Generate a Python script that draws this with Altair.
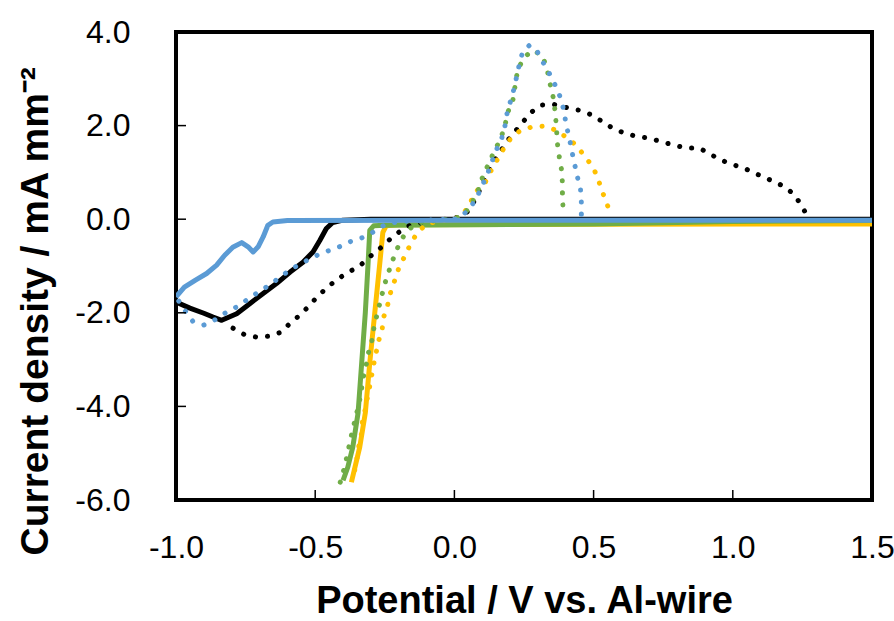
import altair as alt
import pandas as pd

# ---- data ----
black_solid_x = [-1.0, -0.95, -0.9, -0.867, -0.836, -0.782, -0.734, -0.687, -0.638, -0.59, -0.544, -0.508, -0.483, -0.46, -0.437, -0.4, -0.3, 0.0, 0.5, 1.0, 1.5]
black_solid_y = [-1.77, -1.9, -2.01, -2.09, -2.16, -2.02, -1.8, -1.59, -1.37, -1.13, -0.92, -0.7, -0.45, -0.2, -0.07, -0.02, 0.0, 0.0, 0.0, 0.0, 0.0]

blue_solid_x = [-1.0, -0.97, -0.93, -0.89, -0.854, -0.825, -0.796, -0.764, -0.741, -0.723, -0.705, -0.687, -0.67, -0.652, -0.6, 0.0, 0.5, 1.0, 1.5]
blue_solid_y = [-1.66, -1.45, -1.3, -1.16, -0.98, -0.77, -0.6, -0.5, -0.59, -0.7, -0.59, -0.38, -0.13, -0.06, -0.03, -0.02, -0.02, -0.02, -0.02]

yellow_solid_x = [-0.37, -0.34, -0.32, -0.304, -0.286, -0.268, -0.257, -0.245, -0.2, 0.5, 1.5]
yellow_solid_y = [-5.62, -4.87, -4.14, -3.07, -2.0, -0.94, -0.28, -0.14, -0.12, -0.11, -0.1]

green_solid_x = [-0.40, -0.383, -0.365, -0.346, -0.333, -0.32, -0.31, -0.304, -0.29, -0.25, 0.5, 1.0, 1.5]
green_solid_y = [-5.58, -5.3, -4.87, -4.14, -3.07, -2.0, -0.94, -0.24, -0.14, -0.13, -0.1, -0.05, -0.03]

black_dot_x = [-0.795, -0.756, -0.71, -0.667, -0.62, -0.59, -0.555, -0.52, -0.49, -0.455, -0.42, -0.38, -0.34, -0.31, -0.27, -0.24, -0.2, -0.16, -0.1, -0.03, 0.02, 0.054, 0.085, 0.115, 0.137, 0.162, 0.187, 0.216, 0.245, 0.277, 0.313, 0.352, 0.399, 0.446, 0.489, 0.528, 0.567, 0.61, 0.653, 0.70, 0.747, 0.79, 0.833, 0.88, 0.919, 0.958, 1.0, 1.048, 1.088, 1.13, 1.174, 1.21, 1.24, 1.263, 1.275]
black_dot_y = [-2.33, -2.46, -2.52, -2.5, -2.41, -2.22, -2.05, -1.84, -1.64, -1.45, -1.28, -1.13, -1.0, -0.83, -0.64, -0.47, -0.28, -0.13, -0.05, 0.0, 0.05, 0.19, 0.55, 0.94, 1.2, 1.41, 1.65, 1.86, 2.07, 2.29, 2.44, 2.46, 2.39, 2.33, 2.24, 2.1, 1.95, 1.84, 1.77, 1.73, 1.65, 1.58, 1.52, 1.52, 1.39, 1.26, 1.17, 1.07, 0.96, 0.85, 0.73, 0.58, 0.36, 0.12, 0.03]

blue_dot_x = [-0.99, -0.968, -0.94, -0.9, -0.857, -0.817, -0.777, -0.738, -0.70, -0.66, -0.627, -0.587, -0.548, -0.508, -0.466, -0.423, -0.38, -0.336, -0.293, -0.25, -0.2, -0.1, 0.0, 0.03, 0.06, 0.08, 0.097, 0.115, 0.133, 0.15, 0.17, 0.18, 0.19, 0.21, 0.223, 0.234, 0.245, 0.27, 0.295, 0.324, 0.349, 0.367, 0.385, 0.395, 0.402, 0.413, 0.422, 0.431, 0.442, 0.453, 0.456, 0.456]
blue_dot_y = [-1.75, -1.95, -2.18, -2.26, -2.14, -1.98, -1.86, -1.69, -1.54, -1.39, -1.24, -1.07, -0.94, -0.81, -0.7, -0.62, -0.49, -0.41, -0.28, -0.12, -0.05, -0.02, 0.0, 0.08, 0.28, 0.45, 0.69, 0.9, 1.2, 1.47, 1.73, 1.94, 2.29, 2.69, 3.03, 3.33, 3.57, 3.72, 3.61, 3.29, 3.03, 2.8, 2.54, 2.25, 2.0, 1.73, 1.45, 1.2, 0.9, 0.64, 0.36, 0.1]

green_dot_x = [-0.41, -0.405, -0.393, -0.383, -0.37, -0.357, -0.346, -0.335, -0.33, -0.318, -0.31, -0.297, -0.29, -0.28, -0.268, -0.257, -0.245, -0.23, -0.214, -0.196, -0.17, -0.13, -0.05, 0.0, 0.037, 0.06, 0.083, 0.10, 0.12, 0.137, 0.16, 0.18, 0.19, 0.21, 0.218, 0.227, 0.248, 0.28, 0.316, 0.334, 0.34, 0.352, 0.36, 0.364, 0.367, 0.37, 0.377, 0.385, 0.388, 0.388, 0.39, 0.39]
green_dot_y = [-5.62, -5.53, -5.26, -4.98, -4.62, -4.29, -4.02, -3.72, -3.44, -3.16, -2.88, -2.62, -2.35, -2.09, -1.8, -1.54, -1.28, -1.02, -0.75, -0.5, -0.24, -0.08, -0.02, 0.0, 0.12, 0.32, 0.58, 0.88, 1.15, 1.37, 1.65, 1.94, 2.26, 2.54, 2.85, 3.18, 3.44, 3.61, 3.5, 3.18, 2.97, 2.71, 2.39, 2.15, 1.9, 1.62, 1.32, 1.05, 0.77, 0.51, 0.26, 0.1]

yellow_dot_x = [-0.358, -0.35, -0.344, -0.333, -0.33, -0.318, -0.31, -0.30, -0.293, -0.283, -0.275, -0.26, -0.254, -0.24, -0.23, -0.214, -0.2, -0.18, -0.16, -0.135, -0.1, -0.05, 0.0, 0.03, 0.054, 0.072, 0.09, 0.108, 0.126, 0.147, 0.173, 0.205, 0.234, 0.277, 0.32, 0.367, 0.402, 0.438, 0.467, 0.496, 0.514, 0.528, 0.546, 0.56]
yellow_dot_y = [-5.36, -5.11, -4.87, -4.57, -4.27, -4.02, -3.72, -3.46, -3.18, -2.92, -2.65, -2.37, -2.09, -1.84, -1.58, -1.3, -1.05, -0.81, -0.56, -0.3, -0.1, -0.03, 0.0, 0.1, 0.3, 0.56, 0.66, 0.75, 0.98, 1.2, 1.47, 1.75, 1.88, 1.97, 1.99, 1.9, 1.75, 1.58, 1.35, 1.13, 0.9, 0.64, 0.36, 0.13]

x_tick_values = [-1.0, -0.5, 0.0, 0.5, 1.0, 1.5]
y_tick_values = [-6.0, -4.0, -2.0, 0.0, 2.0, 4.0]
x_inner_ticks = [-0.5, 0.0, 0.5, 1.0]
y_inner_ticks = [-4.0, -2.0, 0.0, 2.0]

series = [
    ("black_solid", black_solid_x, black_solid_y, "#000000", False),
    ("yellow_solid", yellow_solid_x, yellow_solid_y, "#FFC000", False),
    ("green_solid", green_solid_x, green_solid_y, "#70AD47", False),
    ("black_dot", black_dot_x, black_dot_y, "#000000", True),
    ("yellow_dot", yellow_dot_x, yellow_dot_y, "#FFC000", True),
    ("green_dot", green_dot_x, green_dot_y, "#70AD47", True),
    ("blue_dot", blue_dot_x, blue_dot_y, "#5B9BD5", True),
    ("blue_solid", blue_solid_x, blue_solid_y, "#5B9BD5", False),
]

W, H = 696, 468
FONT = "Liberation Sans"

label_expr = "(datum.value < 0 ? '-' : '') + format(abs(datum.value), '.1f')"

x_axis = alt.Axis(
    values=x_tick_values, labelExpr=label_expr, grid=False, domain=False,
    ticks=False, tickSize=0, labelFont=FONT, labelFontSize=32, labelColor="#000000",
    labelPadding=57, labelBaseline="alphabetic", labelFlush=False,
    title="Potential / V vs. Al-wire", titleFont=FONT, titleFontSize=38,
    titleFontWeight="bold", titleColor="#000000", titleX=W / 2, titleY=112,
    titleBaseline="alphabetic", titleAlign="center",
)
y_axis = alt.Axis(
    values=y_tick_values, labelExpr=label_expr, grid=False, domain=False,
    ticks=False, tickSize=0, labelFont=FONT, labelFontSize=32, labelColor="#000000",
    labelPadding=46, labelBaseline="middle", labelFlush=False,
    title="Current density / mA mm⁻²", titleFont=FONT, titleFontSize=39,
    titleFontWeight="bold", titleColor="#000000", titleX=-129, titleY=523,
    titleAngle=-90, titleBaseline="alphabetic", titleAlign="left",
)
xs = alt.Scale(domain=[-1.0, 1.5], nice=False, zero=False)
ys = alt.Scale(domain=[-6.0, 4.0], nice=False, zero=False)

rows = []
for key, xv, yv, _, _ in series:
    for i, (a, b) in enumerate(zip(xv, yv)):
        rows.append({"x": a, "y": b, "s": key, "i": i})
df = pd.DataFrame(rows)

layers = []
for key, _, _, color, dotted in series:
    if dotted:
        mk = alt.Chart(df).mark_line(color=color, strokeWidth=5, strokeDash=[0.1, 12],
                                     strokeCap="round", clip=True)
    else:
        mk = alt.Chart(df).mark_line(color=color, strokeWidth=5, strokeJoin="round",
                                     strokeCap="butt", clip=True)
    layers.append(
        mk.transform_filter(alt.datum.s == key).encode(
            x=alt.X("x:Q", scale=xs, axis=x_axis),
            y=alt.Y("y:Q", scale=ys, axis=y_axis),
            order="i:Q",
        )
    )

xt = alt.Chart(pd.DataFrame({"x": x_inner_ticks})).mark_rule(color="black", strokeWidth=1.5).encode(
    x=alt.X("x:Q", scale=xs, axis=x_axis), y=alt.value(H), y2=alt.value(H - 10))
yt = alt.Chart(pd.DataFrame({"y": y_inner_ticks})).mark_rule(color="black", strokeWidth=1.5).encode(
    y=alt.Y("y:Q", scale=ys, axis=y_axis), x=alt.value(0), x2=alt.value(10))

chart = alt.layer(*layers, xt, yt).properties(
    width=W, height=H,
    background="white",
    autosize=alt.AutoSizeParams(type="none"),
    padding={"left": 176, "top": 32, "right": 22, "bottom": 121},
).configure_view(stroke="#000000", strokeWidth=4)

chart.save("out.html", embed_options={"renderer": "svg", "actions": False})
